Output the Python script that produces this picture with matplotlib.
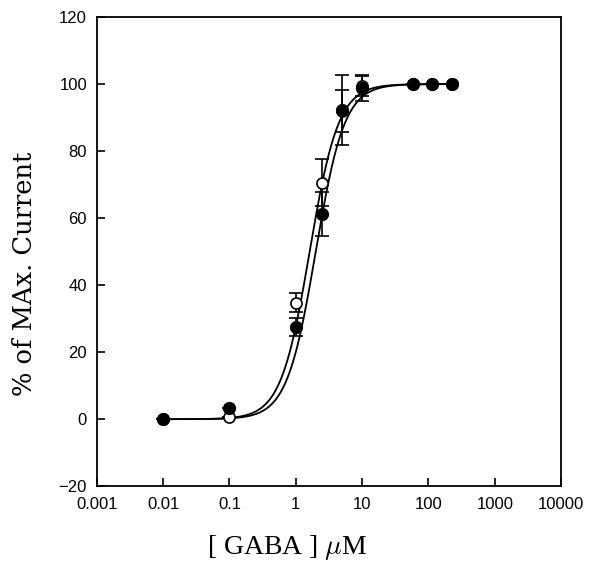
import numpy as np
import matplotlib
matplotlib.use("Agg")
import matplotlib.pyplot as plt

# ---- data ----
conc = [0.01, 0.1, 1, 2.5, 5, 10, 58, 115, 230]
filled_resp = [0, 3.3, 27.6, 61.2, 92.2, 98.8, 100, 100, 100]
filled_err = [0, 0, 2.7, 6.6, 10.5, 4.0, 0, 0, 0]
open_resp = [0, 0.6, 34.8, 70.6, 91.9, 99.5, 100, 100, 100]
open_err = [0, 0, 2.8, 7.0, 6.2, 3.0, 0, 0, 0]

# fitted Hill parameters (EC50 in uM, Hill coefficient)
filled_ec50, filled_nh = 2.0, 2.0
open_ec50, open_nh = 1.62, 2.0

xticks = [0.001, 0.01, 0.1, 1, 10, 100, 1000, 10000]
xticklabels = ["0.001", "0.01", "0.1", "1", "10", "100", "1000", "10000"]
yticks = [-20, 0, 20, 40, 60, 80, 100, 120]

plt.rcParams['mathtext.fontset'] = 'cm'

fig = plt.figure(figsize=(5.90, 5.68), dpi=100)
ax = fig.add_axes([0.164, 0.144, 0.787, 0.826])

xs = np.logspace(np.log10(conc[0]), np.log10(conc[-1]), 400)
def hill(x, ec50, nh):
    return 100.0 / (1.0 + (ec50 / x) ** nh)

ax.plot(xs, hill(xs, filled_ec50, filled_nh), color='black', lw=1.3, zorder=2)
ax.plot(xs, hill(xs, open_ec50, open_nh), color='black', lw=1.3, zorder=2)

ax.errorbar(conc, open_resp, yerr=open_err, fmt='none', ecolor='black',
            elinewidth=1.2, capsize=5, capthick=1.2, zorder=3)
ax.errorbar(conc, filled_resp, yerr=filled_err, fmt='none', ecolor='black',
            elinewidth=1.2, capsize=5, capthick=1.2, zorder=3)
ax.plot(conc, open_resp, linestyle='none', marker='o', markersize=8,
        markerfacecolor='white', markeredgecolor='black', markeredgewidth=1.2, zorder=4)
ax.plot(conc, filled_resp, linestyle='none', marker='o', markersize=8.5,
        markerfacecolor='black', markeredgecolor='black', zorder=5)

ax.set_xscale('log')
ax.set_xlim(0.001, 10000)
ax.set_ylim(-20, 120)
ax.set_xticks(xticks)
ax.set_xticklabels(xticklabels)
ax.minorticks_off()
ax.set_yticks(yticks)
ax.tick_params(axis='both', direction='in', length=6, width=1.2, pad=7,
               labelsize=12)
ax.tick_params(axis='x', pad=8)
for lab in ax.get_xticklabels() + ax.get_yticklabels():
    lab.set_family(['Liberation Sans', 'DejaVu Sans'])
for sp in ax.spines.values():
    sp.set_linewidth(1.3)

ax.set_ylabel('% of MAx. Current', family=['DejaVu Serif'],
              fontsize=18.5)
ax.yaxis.set_label_coords(-0.128, 0.452)
ax.set_xlabel(r'[ GABA ] $\mu$M', family=['Liberation Serif', 'DejaVu Serif'],
              fontsize=20)
ax.xaxis.set_label_coords(0.41, -0.10)

fig.savefig('out.png', dpi=100, facecolor='white')
